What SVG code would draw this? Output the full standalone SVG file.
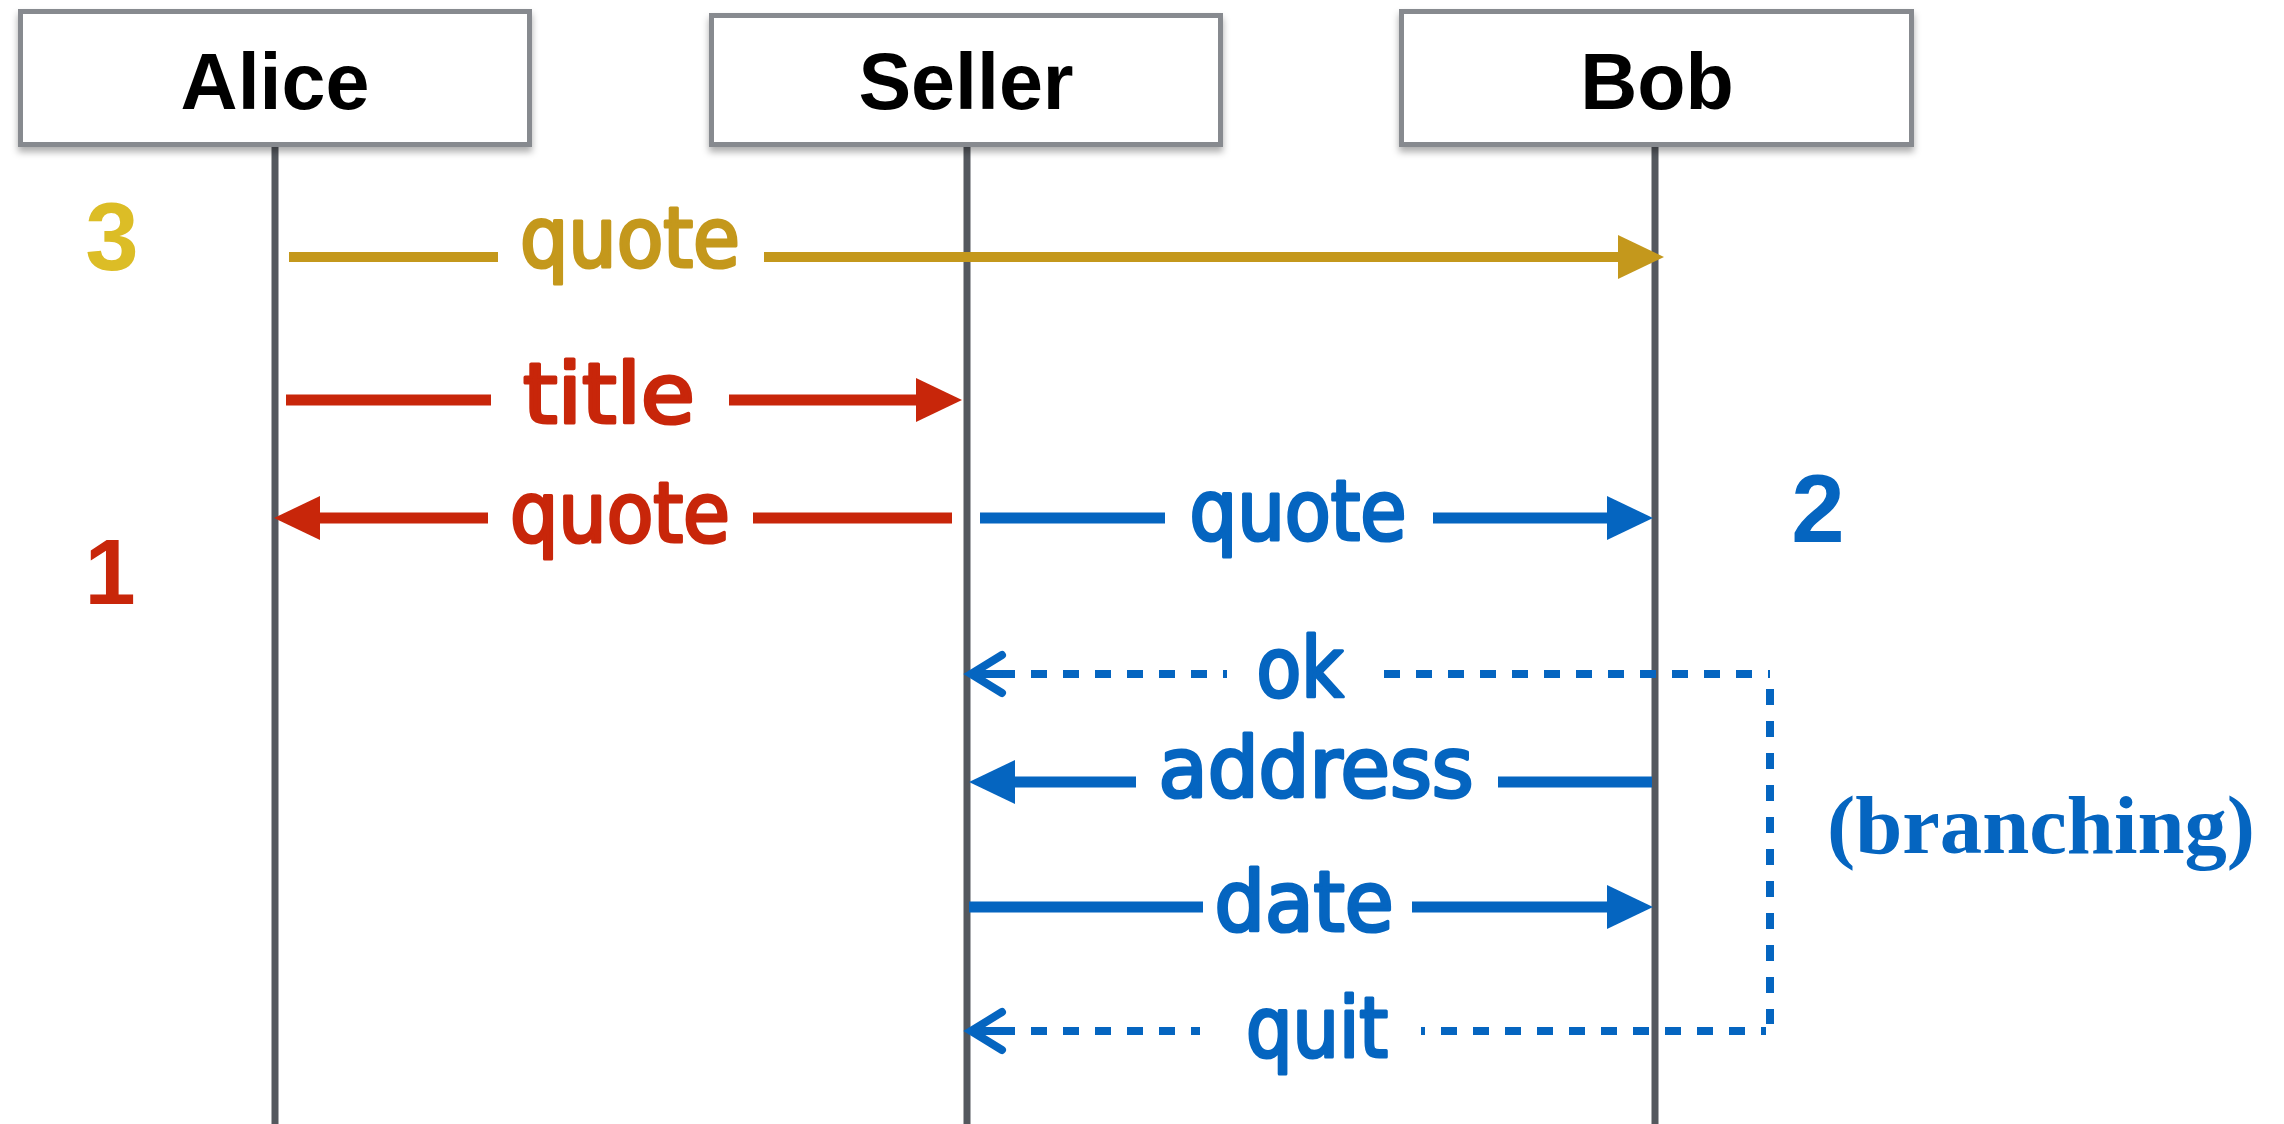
<svg xmlns="http://www.w3.org/2000/svg" width="2284" height="1124" viewBox="0 0 2284 1124">
  <style>
    .box { fill: #ffffff; stroke: #878a8f; stroke-width: 5; filter: url(#shadow); }
    .life { stroke: #54585e; stroke-width: 7; fill: none; }
    .head { font-family: "Liberation Sans", Arial, sans-serif; font-weight: bold; font-size: 79px; fill: #000000; text-anchor: middle; }
    .lbl { font-family: "DejaVu Sans Condensed", "DejaVu Sans", sans-serif; font-size: 84px; text-anchor: middle; stroke-width: 3.2; stroke-linejoin: round; }
    .num { font-family: "Liberation Sans", Arial, sans-serif; font-weight: bold; text-anchor: middle; }
    .gold { stroke: #c4981c; fill: none; stroke-width: 10; }
    .red { stroke: #c8260a; fill: none; stroke-width: 11; }
    .blue { stroke: #0565c0; fill: none; stroke-width: 11; }
    .dash { stroke: #0565c0; fill: none; stroke-width: 8; stroke-dasharray: 16 16; }
    .tgold { fill: #c4981c; stroke: #c4981c; }
    .tred { fill: #c8260a; stroke: #c8260a; }
    .tblue { fill: #0565c0; stroke: #0565c0; }
  </style>
  <defs>
    <filter id="shadow" x="-5%" y="-10%" width="110%" height="130%">
      <feDropShadow dx="0" dy="5" stdDeviation="3.5" flood-color="#000000" flood-opacity="0.32"/>
    </filter>
    <marker id="ah-gold" markerUnits="userSpaceOnUse" markerWidth="46" markerHeight="46" refX="0" refY="22" orient="auto" overflow="visible">
      <path d="M-2,0 L44,22 L-2,44 Z" fill="#c4981c"/>
    </marker>
    <marker id="ah-red" markerUnits="userSpaceOnUse" markerWidth="46" markerHeight="46" refX="0" refY="22" orient="auto" overflow="visible">
      <path d="M-2,0 L44,22 L-2,44 Z" fill="#c8260a"/>
    </marker>
    <marker id="ah-blue" markerUnits="userSpaceOnUse" markerWidth="46" markerHeight="46" refX="0" refY="22" orient="auto" overflow="visible">
      <path d="M-2,0 L44,22 L-2,44 Z" fill="#0565c0"/>
    </marker>
    <marker id="ah-open" markerUnits="userSpaceOnUse" markerWidth="40" markerHeight="40" refX="0" refY="0" orient="auto-start-reverse" overflow="visible">
      <path d="M0,0 L28,0 M-3,-19 L28,0 L-3,19" fill="none" stroke="#0565c0" stroke-width="8" stroke-linecap="round" stroke-linejoin="miter"/>
    </marker>
  </defs>

  <rect width="2284" height="1124" fill="#ffffff"/>

  <g id="alice">
    <line class="life" x1="275" y1="147" x2="275" y2="1124"/>
    <rect class="box" x="20.5" y="11.5" width="509" height="133"/>
    <text class="head" x="275" y="109">Alice</text>
  </g>
  <g id="seller">
    <line class="life" x1="967" y1="147" x2="967" y2="1124"/>
    <rect class="box" x="711.5" y="15.5" width="509" height="129"/>
    <text class="head" x="966" y="109">Seller</text>
  </g>
  <g id="bob">
    <line class="life" x1="1655" y1="147" x2="1655" y2="1124"/>
    <rect class="box" x="1401.5" y="11.5" width="510" height="133"/>
    <text class="head" x="1657" y="109">Bob</text>
  </g>

  <g id="connectors">
    <g id="msg-gold-quote">
      <line class="gold" x1="289" y1="257" x2="498" y2="257"/>
      <line class="gold" x1="764" y1="257" x2="1620" y2="257" marker-end="url(#ah-gold)"/>
      <text class="lbl tgold" x="630" y="267" textLength="220" lengthAdjust="spacingAndGlyphs">quote</text>
    </g>
    <g id="msg-red-title">
      <line class="red" x1="286" y1="400" x2="491" y2="400"/>
      <line class="red" x1="729" y1="400" x2="918" y2="400" marker-end="url(#ah-red)"/>
      <text class="lbl tred" x="609" y="423" textLength="172" lengthAdjust="spacingAndGlyphs">title</text>
    </g>
    <g id="msg-red-quote">
      <line class="red" x1="952" y1="518" x2="753" y2="518"/>
      <line class="red" x1="488" y1="518" x2="318" y2="518" marker-end="url(#ah-red)"/>
      <text class="lbl tred" x="620" y="542" textLength="220" lengthAdjust="spacingAndGlyphs">quote</text>
    </g>
    <g id="msg-blue-quote">
      <line class="blue" x1="980" y1="518" x2="1165" y2="518"/>
      <line class="blue" x1="1433" y1="518" x2="1609" y2="518" marker-end="url(#ah-blue)"/>
      <text class="lbl tblue" x="1298" y="540" textLength="217" lengthAdjust="spacingAndGlyphs">quote</text>
    </g>
    <g id="msg-ok">
      <line class="dash" x1="999" y1="674" x2="1227" y2="674" marker-start="url(#ah-open)"/>
      <line class="dash" x1="1384" y1="674" x2="1770" y2="674"/>
      <text class="lbl tblue" x="1300" y="697" textLength="87" lengthAdjust="spacingAndGlyphs">ok</text>
    </g>
    <line id="branch-bracket" class="dash" x1="1770" y1="689" x2="1770" y2="1024"/>
    <g id="msg-address">
      <line class="blue" x1="1652" y1="782" x2="1498" y2="782"/>
      <line class="blue" x1="1136" y1="782" x2="1013" y2="782" marker-end="url(#ah-blue)"/>
      <text class="lbl tblue" x="1316" y="797" textLength="315" lengthAdjust="spacingAndGlyphs">address</text>
    </g>
    <g id="msg-date">
      <line class="blue" x1="969" y1="907" x2="1203" y2="907"/>
      <line class="blue" x1="1412" y1="907" x2="1609" y2="907" marker-end="url(#ah-blue)"/>
      <text class="lbl tblue" x="1304" y="931" textLength="179" lengthAdjust="spacingAndGlyphs">date</text>
    </g>
    <g id="msg-quit">
      <line class="dash" x1="999" y1="1031" x2="1200" y2="1031" marker-start="url(#ah-open)"/>
      <line class="dash" x1="1421" y1="1031" x2="1766" y2="1031" stroke-dashoffset="12"/>
      <text class="lbl tblue" x="1317" y="1057" textLength="142" lengthAdjust="spacingAndGlyphs">quit</text>
    </g>
  </g>

  <g id="annotations">
    <text id="n3" class="num" x="112" y="270" font-size="96" fill="#dcbd26">3</text>
    <text id="n1" class="num" x="110" y="604" font-size="92" fill="#c8260a">1</text>
    <text id="n2" class="num" x="1818" y="542" font-size="96" fill="#0565c0">2</text>
    <text id="branching" x="1827" y="853" font-family="'Liberation Serif', 'Times New Roman', serif" font-weight="bold" font-size="82" fill="#0565c0" textLength="428" lengthAdjust="spacingAndGlyphs">(branching)</text>
  </g>
</svg>
